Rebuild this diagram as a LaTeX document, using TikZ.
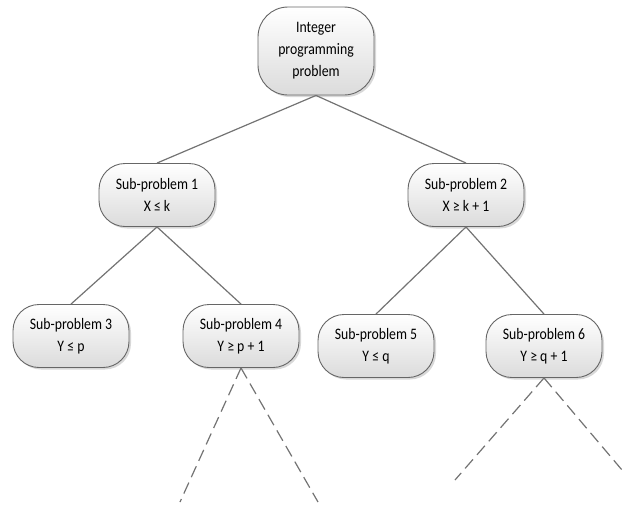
\documentclass[tikz,border=0pt]{standalone}
\usepackage{fontspec}
\setmainfont[FakeStretch=0.86]{Carlito}
\usetikzlibrary{positioning, shadows}
\tikzset{
    prob/.style={draw=black!60, line width=0.9pt, rounded corners=26pt,
      top color=white, bottom color=black!14, align=center,
      minimum width=116pt, minimum height=63pt,
      font=\fontsize{16}{22}\selectfont,
      drop shadow={shadow xshift=2pt, shadow yshift=-2pt, fill=black!30, opacity=.5}},
    branch/.style={draw=black!55, line width=1.2pt},
    cont/.style={branch, dash pattern=on 12pt off 6pt},
}
\begin{document}
\begin{tikzpicture}[x=1pt, y=1pt, on grid]
    \useasboundingbox (0,-504) rectangle (624,0);

    \node[prob, minimum height=88pt, rounded corners=30pt] (root) at (316,-51) {Integer\\programming\\problem};
    \node[prob, below left=144pt and 159pt of root] (sp1) {Sub-problem 1\\X ≤ k};
    \node[prob, below right=144pt and 150pt of root] (sp2) {Sub-problem 2\\X ≥ k + 1};
    \node[prob, below left=141pt and 86pt of sp1] (sp3) {Sub-problem 3\\Y ≤ p};
    \node[prob, below right=141pt and 84pt of sp1] (sp4) {Sub-problem 4\\Y ≥ p + 1};
    \node[prob, below left=151pt and 90pt of sp2] (sp5) {Sub-problem 5\\Y ≤ q};
    \node[prob, below right=151pt and 78pt of sp2] (sp6) {Sub-problem 6\\Y ≥ q + 1};

    % open branches below
    \coordinate (a1) at (180,-502);
    \coordinate (a2) at (318,-502);
    \coordinate (b1) at (455,-480);
    \coordinate (b2) at (622,-470);

    \draw[branch] (root.south) -- (sp1.north);
    \draw[branch] (root.south) -- (sp2.north);
    \draw[branch] (sp1.south) -- (sp3.north);
    \draw[branch] (sp1.south) -- (sp4.north);
    \draw[branch] (sp2.south) -- (sp5.north);
    \draw[branch] (sp2.south) -- (sp6.north);

    \draw[cont] (sp4.south) -- (a1);
    \draw[cont] (sp4.south) -- (a2);
    \draw[cont] (sp6.south) -- (b1);
    \draw[cont] (sp6.south) -- (b2);
\end{tikzpicture}
\end{document}
